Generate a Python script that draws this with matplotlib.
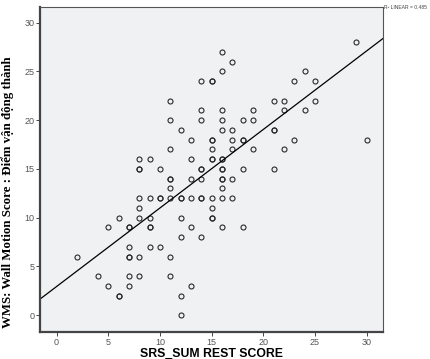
import numpy as np
import matplotlib
matplotlib.use('Agg')
import matplotlib.pyplot as plt

# SRS_SUM REST SCORE (x) and WMS (y), grouped by x value;
# repeated pairs show up as bolder circles in the reference
srs_score = ([2] + [4] + [5] * 2 + [6] * 3 + [7] * 7 + [8] * 8 + [9] * 6 + [10] * 4
             + [11] * 9 + [12] * 7 + [13] * 6 + [14] * 9 + [15] * 11 + [16] * 14
             + [17] * 6 + [18] * 5 + [19] * 3 + [21] * 4 + [22] * 3 + [23] * 2
             + [24] * 2 + [25] * 2 + [29] + [30])
wms_score = [6,
             4,
             3, 9,
             10, 2, 2,
             9, 9, 7, 6, 6, 4, 3,
             16, 15, 15, 12, 11, 10, 6, 4,
             16, 12, 10, 9, 9, 7,
             15, 12, 12, 7,
             22, 20, 17, 14, 14, 13, 12, 6, 4,
             19, 12, 12, 10, 8, 2, 0,
             18, 16, 14, 12, 9, 3,
             24, 21, 20, 15, 15, 14, 12, 12, 8,
             24, 24, 18, 18, 17, 16, 16, 12, 11, 10, 10,
             27, 25, 21, 20, 19, 16, 16, 15, 15, 14, 14, 13, 12, 9,
             26, 19, 18, 17, 14, 12,
             20, 18, 18, 15, 9,
             21, 20, 17,
             22, 19, 19, 15,
             22, 21, 17,
             24, 18,
             25, 21,
             24, 22,
             28,
             18]

x = np.array(srs_score, dtype=float)
y = np.array(wms_score, dtype=float)
slope, intercept = np.polyfit(x, y, 1)

fig = plt.figure(figsize=(4.3, 3.59), dpi=100)
ax = fig.add_axes([0.093, 0.075, 0.798, 0.905])
ax.set_facecolor('#f0f1f3')

ax.plot(x, y, 'o', markersize=3.6, markerfacecolor='none',
        markeredgecolor='#2a2a2a', markeredgewidth=0.8)

xl = (-1.6, 31.6)
xs = np.array(xl)
ax.plot(xs, intercept + slope * xs, color='black', lw=0.9)

ax.set_xlim(xl)
ax.set_ylim(-1.75, 31.6)
ax.set_xticks(range(0, 31, 5))
ax.set_yticks(range(0, 31, 5))
ax.tick_params(labelsize=6.5, labelcolor='#555555', length=3, width=0.7,
               color='#444444', pad=1)
for lab in ax.get_xticklabels() + ax.get_yticklabels():
    lab.set_family('Liberation Sans')

for side in ['left', 'bottom']:
    ax.spines[side].set_linewidth(1.6)
    ax.spines[side].set_color('#444444')
for side in ['top', 'right']:
    ax.spines[side].set_linewidth(0.8)
    ax.spines[side].set_color('#555555')

ax.set_xlabel('SRS_SUM REST SCORE', fontsize=8.8, fontweight='bold',
              family='Liberation Sans', labelpad=0.5)
ax.set_ylabel('WMS: Wall Motion Score : Điểm vận động thành', fontsize=9.3,
              fontweight='bold', family='Liberation Serif')
ax.yaxis.set_label_coords(-0.077, 0.43)

fig.text(0.893, 0.978, 'R² LINEAR = 0.485', fontsize=3.6, color='#444444',
         family='Liberation Sans', ha='left', va='center')

fig.savefig('out.png', dpi=100)
